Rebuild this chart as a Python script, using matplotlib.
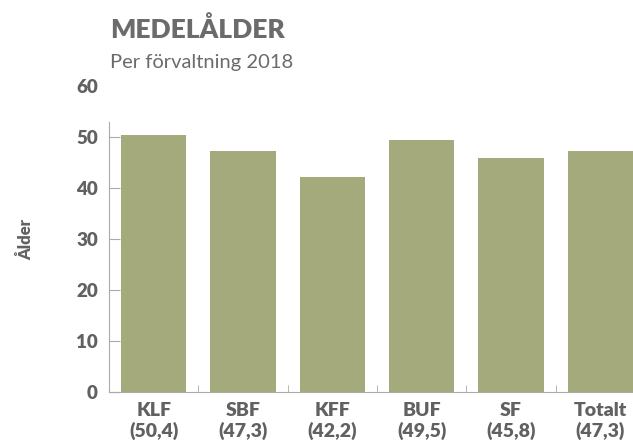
import numpy as np
import matplotlib.pyplot as plt

# Data
categories = ['KLF', 'SBF', 'KFF', 'BUF', 'SF', 'Totalt']
values = [50.4, 47.3, 42.2, 49.5, 45.8, 47.3]
value_labels = ['50,4', '47,3', '42,2', '49,5', '45,8', '47,3']

plt.rcParams['font.family'] = ['Lato', 'DejaVu Sans']

bar_color = '#a5aa7c'
text_color = '#616161'
axis_color = '#aaaaaa'

fig = plt.figure(figsize=(6.33, 4.45), dpi=100)
ax = fig.add_axes([109 / 633, 1 - 392 / 445, 536 / 633, 306 / 445])

x = np.arange(len(categories))
ax.bar(x, values, width=0.73, color=bar_color, zorder=3)

ax.set_xlim(-0.5, len(categories) - 0.5)
ax.set_ylim(0, 60)

# Ticks
ax.set_yticks([0, 10, 20, 30, 40, 50, 60])
ax.tick_params(axis='y', direction='in', length=8, color=axis_color,
               labelsize=13.5, labelcolor=text_color, pad=8)
ax.yaxis.get_major_ticks()[-1].tick1line.set_visible(False)
ax.set_xticks(x)
ax.set_xticklabels([f'{c}\n({v})' for c, v in zip(categories, value_labels)])
ax.tick_params(axis='x', length=0, labelsize=14, labelcolor=text_color, pad=7)
ax.set_xticks(x[:-1] + 0.5, minor=True)
ax.tick_params(axis='x', which='minor', direction='in', length=5, color=axis_color)
for lbl in ax.get_xticklabels() + ax.get_yticklabels():
    lbl.set_fontweight('heavy')
    lbl.set_linespacing(1.2)

# Spines
for s in ['top', 'right']:
    ax.spines[s].set_visible(False)
ax.spines['left'].set_color(axis_color)
ax.spines['bottom'].set_color(axis_color)
ax.spines['left'].set_bounds(0, 53)

ax.set_ylabel('Ålder', fontsize=12, fontweight='heavy', color=text_color, labelpad=30)

# Titles
fig.text(110 / 633, 1 - 38 / 445, 'MEDELÅLDER', fontsize=19, fontweight='heavy',
         color='#6b6b6b', va='baseline', ha='left')
fig.text(110 / 633, 1 - 68 / 445, 'Per förvaltning 2018', fontsize=14.5,
         color='#6b6b6b', va='baseline', ha='left')

fig.savefig('out.png', dpi=100)
